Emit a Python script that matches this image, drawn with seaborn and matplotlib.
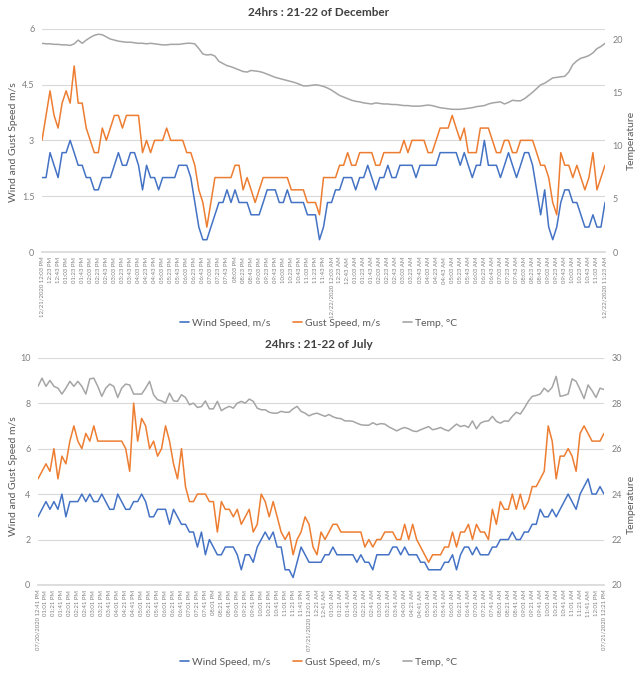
import numpy as np
import pandas as pd
import matplotlib
matplotlib.use("Agg")
import matplotlib.pyplot as plt
import seaborn as sns
from matplotlib.lines import Line2D

# December 21-22, 10 minute readings from 12:03 PM
dec_wind = [2.0, 2.0, 2.67, 2.33, 2.0, 2.67, 2.67, 3.0, 2.67, 2.33,
            2.33, 2.0, 2.0, 1.67, 1.67, 2.0, 2.0, 2.0, 2.33, 2.67,
            2.33, 2.33, 2.67, 2.67, 2.33, 1.67, 2.33, 2.0, 2.0, 1.67,
            2.0, 2.0, 2.0, 2.0, 2.33, 2.33, 2.33, 2.0, 1.33, 0.67,
            0.33, 0.33, 0.67, 1.0, 1.33, 1.33, 1.67, 1.33, 1.67, 1.33,
            1.33, 1.33, 1.0, 1.0, 1.0, 1.33, 1.67, 1.67, 1.67, 1.33,
            1.33, 1.67, 1.33, 1.33, 1.33, 1.33, 1.0, 1.0, 1.0, 0.33,
            0.67, 1.33, 1.33, 1.67, 1.67, 2.0, 2.0, 2.0, 1.67, 2.0,
            2.0, 2.33, 2.0, 1.67, 2.0, 2.0, 2.33, 2.0, 2.0, 2.33,
            2.33, 2.33, 2.33, 2.0, 2.33, 2.33, 2.33, 2.33, 2.33, 2.67,
            2.67, 2.67, 2.67, 2.67, 2.33, 2.67, 2.33, 2.0, 2.33, 2.33,
            3.0, 2.33, 2.33, 2.33, 2.0, 2.33, 2.67, 2.33, 2.0, 2.33,
            2.67, 2.67, 2.33, 1.67, 1.0, 1.67, 0.67, 0.33, 0.67, 1.33,
            1.67, 1.67, 1.33, 1.33, 1.0, 0.67, 0.67, 1.0, 0.67, 0.67,
            1.33]
dec_gust = [3.0, 3.67, 4.33, 3.67, 3.33, 4.0, 4.33, 4.0, 5.0, 4.0,
            4.0, 3.33, 3.0, 2.67, 2.67, 3.33, 3.0, 3.33, 3.67, 3.67,
            3.33, 3.67, 3.67, 3.67, 3.67, 2.67, 3.0, 2.67, 3.0, 3.0,
            3.0, 3.33, 3.0, 3.0, 3.0, 3.0, 2.67, 2.67, 2.33, 1.67,
            1.33, 0.67, 1.33, 2.0, 2.0, 2.0, 2.0, 2.0, 2.33, 2.33,
            1.67, 2.0, 1.67, 1.33, 1.67, 2.0, 2.0, 2.0, 2.0, 2.0,
            2.0, 2.0, 1.67, 1.67, 1.67, 1.67, 1.33, 1.33, 1.33, 1.0,
            2.0, 2.0, 2.0, 2.0, 2.33, 2.33, 2.67, 2.33, 2.33, 2.67,
            2.67, 2.67, 2.67, 2.33, 2.33, 2.67, 2.67, 2.67, 2.67, 2.67,
            3.0, 2.67, 3.0, 3.0, 3.0, 3.0, 2.67, 2.67, 3.0, 3.33,
            3.33, 3.33, 3.67, 3.33, 3.0, 3.33, 2.67, 2.67, 2.67, 3.33,
            3.33, 3.33, 3.0, 2.67, 2.67, 3.0, 3.0, 2.67, 2.67, 3.0,
            3.0, 3.0, 3.0, 2.67, 2.33, 2.33, 2.0, 1.33, 1.0, 2.67,
            2.33, 2.33, 2.0, 2.33, 2.0, 1.67, 2.0, 2.67, 1.67, 2.0,
            2.33]
dec_temp = [19.6, 19.55, 19.55, 19.5, 19.5, 19.45, 19.45, 19.4, 19.55, 19.9,
            19.6, 19.9, 20.15, 20.35, 20.45, 20.4, 20.2, 20.0, 19.9, 19.8,
            19.75, 19.7, 19.7, 19.65, 19.6, 19.6, 19.55, 19.6, 19.55, 19.5,
            19.45, 19.45, 19.5, 19.5, 19.5, 19.55, 19.6, 19.6, 19.55, 19.1,
            18.6, 18.5, 18.55, 18.4, 17.9, 17.7, 17.5, 17.4, 17.25, 17.1,
            16.95, 16.9, 17.05, 17.0, 16.95, 16.85, 16.7, 16.55, 16.4, 16.3,
            16.2, 16.1, 16.0, 15.9, 15.75, 15.6, 15.6, 15.65, 15.7, 15.65,
            15.55, 15.4, 15.2, 14.95, 14.7, 14.55, 14.4, 14.25, 14.15, 14.1,
            14.0, 13.95, 13.9, 14.0, 13.95, 13.9, 13.9, 13.85, 13.85, 13.8,
            13.75, 13.75, 13.7, 13.7, 13.7, 13.75, 13.8, 13.75, 13.65, 13.55,
            13.5, 13.45, 13.4, 13.4, 13.4, 13.45, 13.5, 13.55, 13.65, 13.7,
            13.75, 13.9, 14.0, 14.05, 14.1, 13.9, 14.05, 14.25, 14.2, 14.2,
            14.4, 14.7, 15.0, 15.35, 15.7, 15.85, 16.1, 16.35, 16.4, 16.45,
            16.5, 16.9, 17.6, 17.95, 18.2, 18.3, 18.45, 18.7, 19.1, 19.3,
            19.6]

# July 20-21, 10 minute readings from 12:41 PM
jul_wind = [3.0, 3.33, 3.67, 3.33, 3.67, 3.33, 4.0, 3.0, 3.67, 3.67,
            3.67, 4.0, 3.67, 4.0, 3.67, 3.67, 4.0, 3.67, 3.33, 3.33,
            4.0, 3.67, 3.33, 3.33, 3.67, 3.67, 4.0, 3.67, 3.0, 3.0,
            3.33, 3.33, 3.33, 2.67, 3.33, 3.0, 2.67, 2.67, 2.33, 2.33,
            1.67, 2.33, 1.33, 2.0, 1.67, 1.33, 1.33, 1.67, 1.67, 1.67,
            1.33, 0.67, 1.33, 1.33, 1.0, 1.67, 2.0, 2.33, 2.0, 2.33,
            1.67, 1.67, 0.67, 0.67, 0.33, 1.0, 1.67, 1.33, 1.0, 1.0,
            1.0, 1.0, 1.33, 1.33, 1.67, 1.33, 1.33, 1.33, 1.33, 1.33,
            1.0, 1.33, 1.0, 1.0, 0.67, 1.33, 1.33, 1.33, 1.33, 1.67,
            1.67, 1.33, 1.67, 1.33, 1.33, 1.33, 1.0, 1.0, 0.67, 0.67,
            0.67, 0.67, 1.0, 1.0, 1.33, 0.67, 1.33, 1.67, 1.67, 1.33,
            1.67, 1.33, 1.33, 1.33, 1.67, 1.67, 2.0, 2.0, 2.0, 2.33,
            2.0, 2.0, 2.33, 2.33, 2.67, 2.67, 3.33, 3.0, 3.0, 3.33,
            3.0, 3.33, 3.67, 4.0, 3.67, 3.33, 4.0, 4.33, 4.67, 4.0,
            4.0, 4.33, 4.0]
jul_gust = [4.67, 5.0, 5.33, 5.0, 6.0, 4.67, 5.67, 5.33, 6.33, 7.0,
            6.33, 6.0, 6.67, 6.33, 7.0, 6.33, 6.33, 6.33, 6.33, 6.33,
            6.33, 6.33, 6.0, 5.0, 8.0, 6.33, 7.33, 7.0, 6.0, 6.33,
            5.67, 6.0, 7.0, 6.33, 5.33, 4.67, 6.0, 4.33, 3.67, 3.67,
            4.0, 4.0, 4.0, 3.67, 3.67, 2.33, 3.67, 3.33, 3.33, 3.0,
            3.33, 2.67, 3.0, 3.33, 2.33, 2.67, 4.0, 3.67, 3.0, 3.67,
            3.0, 2.33, 2.0, 2.33, 1.33, 2.0, 2.33, 3.0, 2.67, 1.67,
            1.33, 2.33, 2.0, 2.33, 2.67, 2.67, 2.33, 2.33, 2.33, 2.33,
            2.33, 2.33, 1.67, 2.0, 1.67, 2.0, 2.0, 2.33, 2.33, 2.33,
            2.0, 2.0, 2.67, 2.0, 2.67, 2.0, 1.67, 1.33, 1.0, 1.33,
            1.33, 1.33, 1.67, 1.67, 2.33, 1.67, 2.33, 2.33, 2.67, 2.0,
            2.67, 2.33, 2.33, 2.0, 3.33, 2.67, 3.67, 3.33, 3.33, 4.0,
            3.33, 4.0, 3.33, 3.67, 4.33, 4.33, 4.67, 5.0, 7.0, 6.33,
            4.67, 5.67, 5.67, 6.0, 5.67, 5.0, 6.67, 7.0, 6.67, 6.33,
            6.33, 6.33, 6.67]
jul_temp = [28.74, 29.1, 28.74, 29.0, 28.74, 28.66, 28.4, 28.66, 28.96, 28.74,
            28.96, 28.74, 28.4, 29.07, 29.1, 28.74, 28.3, 28.66, 28.84, 28.74,
            28.25, 28.66, 28.84, 28.8, 28.4, 28.4, 28.4, 28.66, 28.96, 28.37,
            28.15, 28.1, 28.0, 28.44, 28.1, 28.08, 28.37, 28.25, 27.93, 28.0,
            27.81, 27.85, 28.1, 27.75, 27.75, 28.08, 27.67, 27.78, 27.86, 27.78,
            28.0, 28.08, 28.0, 28.18, 28.08, 27.78, 27.71, 27.71, 27.6, 27.56,
            27.56, 27.64, 27.6, 27.6, 27.75, 27.86, 27.64, 27.56, 27.44, 27.52,
            27.56, 27.49, 27.42, 27.5, 27.4, 27.34, 27.32, 27.22, 27.22, 27.2,
            27.12, 27.05, 27.03, 27.03, 27.14, 27.05, 27.1, 27.08, 26.96, 26.87,
            26.78, 26.87, 26.93, 26.87, 26.78, 26.75, 26.83, 26.9, 26.97, 26.83,
            26.87, 26.93, 26.84, 26.78, 26.93, 27.08, 26.97, 27.02, 26.93, 27.22,
            26.87, 27.12, 27.2, 27.22, 27.42, 27.2, 27.12, 27.22, 27.2, 27.42,
            27.6, 27.52, 27.78, 28.08, 28.3, 28.34, 28.4, 28.66, 28.5, 28.7,
            29.18, 28.3, 28.34, 28.4, 29.07, 28.96, 28.6, 28.2, 28.8, 28.55,
            28.25, 28.66, 28.6]

dec_start = "2020-12-21 12:03"
jul_start = "2020-07-20 12:41"
series_names = ["Wind Speed, m/s", "Gust Speed, m/s", "Temp, °C"]
dec_speed_ticks = [0, 1.5, 3, 4.5, 6]
dec_speed_labels = ["0", "1.5", "3", "4.5", "6"]
dec_temp_ticks = [0, 5, 10, 15, 20]
jul_speed_ticks = [0, 2, 4, 6, 8, 10]
jul_temp_ticks = [20, 22, 24, 26, 28, 30]

BLUE = "#4472C4"
ORANGE = "#ED7D31"
GRAY = "#A5A5A5"
TXT = "#595959"
TICK = "#808080"
GRID = "#D9D9D9"

sns.set_theme(style="white")
plt.rcParams["font.family"] = ["Lato", "DejaVu Sans"]


def time_labels(start, n):
    times = pd.date_range(start, periods=n, freq="10min")
    ticks = list(range(0, n, 2))
    labels = []
    prev_day = None
    for k in ticks:
        t = times[k]
        s = t.strftime("%I:%M %p")
        if prev_day != t.date() or k == ticks[-1]:
            s = t.strftime("%m/%d/%Y ") + s
        prev_day = t.date()
        labels.append(s)
    return ticks, labels


def draw_panel(ax, wind, gust, temp, start, speed_lim, speed_ticks, speed_labels,
               temp_lim, temp_ticks):
    ax2 = ax.twinx()
    x = np.arange(len(wind))
    sns.lineplot(x=x, y=wind, ax=ax, color=BLUE, lw=1.1)
    sns.lineplot(x=x, y=gust, ax=ax, color=ORANGE, lw=1.1)
    sns.lineplot(x=x, y=temp, ax=ax2, color=GRAY, lw=1.1)

    ax.set_xlim(0, len(wind) - 1)
    ax.set_ylim(*speed_lim)
    ax.set_yticks(speed_ticks)
    ax.set_yticklabels(speed_labels)
    ax2.set_ylim(*temp_lim)
    ax2.set_yticks(temp_ticks)
    ax2.set_yticklabels([str(t) for t in temp_ticks])

    ticks, labels = time_labels(start, len(wind))
    ax.set_xticks(ticks)
    ax.set_xticklabels(labels, rotation=90, fontsize=4.3, color=TICK)

    ax.yaxis.grid(True, color=GRID, lw=0.8)
    ax.xaxis.grid(False)
    ax2.grid(False)
    for side in ["top", "left", "right"]:
        ax.spines[side].set_visible(False)
    ax.spines["bottom"].set_color(GRID)
    for side in ax2.spines:
        ax2.spines[side].set_visible(False)

    ax.tick_params(axis="y", length=0, pad=5.5, labelsize=6.5, labelcolor=TICK)
    ax2.tick_params(axis="y", length=0, pad=5.5, labelsize=6.5, labelcolor=TICK)
    ax.tick_params(axis="x", length=2, color=GRID, pad=1.5)
    ax.set_xlabel("")
    ax.set_ylabel("")
    ax2.set_ylabel("")


fig = plt.figure(figsize=(6.37, 6.74), dpi=100)
ax_dec = fig.add_axes([42 / 637, 1 - 252 / 674, 563 / 637, 223.3 / 674])
ax_jul = fig.add_axes([38 / 637, 1 - 585 / 674, 566 / 637, 227.3 / 674])

draw_panel(ax_dec, dec_wind, dec_gust, dec_temp, dec_start, (0, 6), dec_speed_ticks,
           dec_speed_labels, (0, 20.97), dec_temp_ticks)
draw_panel(ax_jul, jul_wind, jul_gust, jul_temp, jul_start, (0, 10), jul_speed_ticks,
           [str(t) for t in jul_speed_ticks], (20, 30), jul_temp_ticks)

fig.text(0.5, 1 - 13 / 674, "24hrs : 21-22 of December", ha="center", va="center",
         fontsize=8.5, fontweight="bold", color="#404040")
fig.text(0.5, 1 - 345 / 674, "24hrs : 21-22 of July", ha="center", va="center",
         fontsize=8.5, fontweight="bold", color="#404040")

fig.text(14 / 637, 1 - 142 / 674, "Wind and Gust Speed m/s", rotation=90,
         ha="center", va="center", fontsize=7.5, color=TXT)
fig.text(14 / 637, 1 - 476 / 674, "Wind and Gust Speed m/s", rotation=90,
         ha="center", va="center", fontsize=7.5, color=TXT)
fig.text(631 / 637, 1 - 140 / 674, "Temperature", rotation=90,
         ha="center", va="center", fontsize=7.5, color=TXT)
fig.text(631 / 637, 1 - 504 / 674, "Temperature", rotation=90,
         ha="center", va="center", fontsize=7.5, color=TXT)

handles = [Line2D([0], [0], color=c, lw=1.2) for c in (BLUE, ORANGE, GRAY)]
for ypos in (1 - 323 / 674, 1 - 662 / 674):
    fig.legend(handles, series_names, loc="center", bbox_to_anchor=(0.5, ypos),
               ncol=3, frameon=False, fontsize=7.5, handlelength=0.9,
               handletextpad=0.25, columnspacing=2.2, labelcolor=TXT)

fig.savefig("out.png", dpi=100)
